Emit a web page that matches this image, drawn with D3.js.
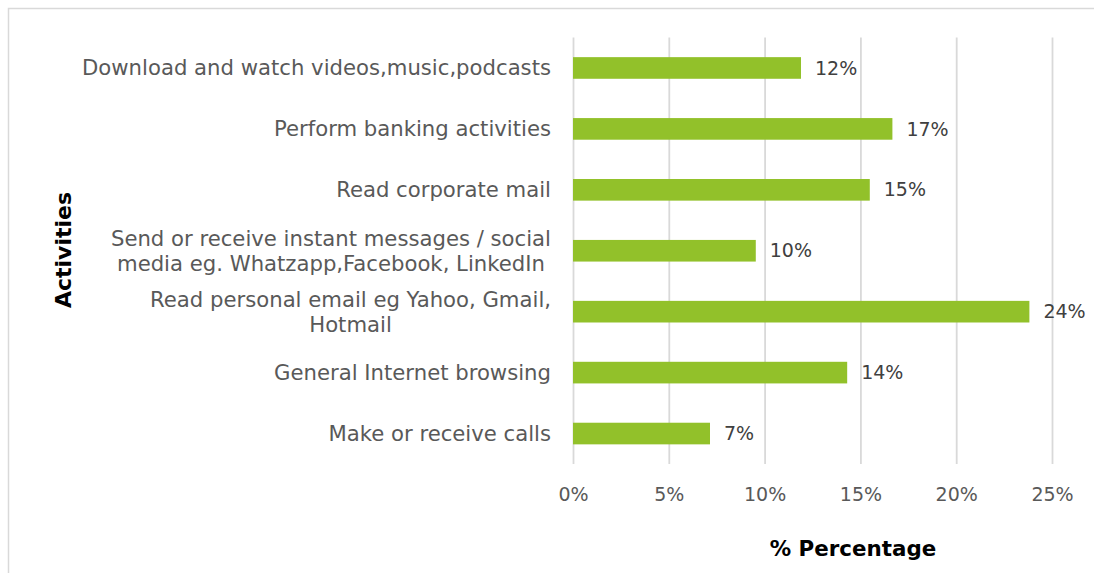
<!DOCTYPE html>
<html>
<head>
<meta charset="utf-8">
<script src="https://cdn.jsdelivr.net/npm/d3@7/dist/d3.min.js"></script>
<style>
  html, body { margin: 0; padding: 0; background: #fff; }
  svg { display: block; }
  text { font-family: "DejaVu Sans", sans-serif; }
</style>
</head>
<body>
<svg id="chart" width="1094" height="573"></svg>
<script>
// Activities, listed top to bottom; multi-line labels are split with "\n"
const activities = [
  "Download and watch videos,music,podcasts",
  "Perform banking activities",
  "Read corporate mail",
  "Send or receive instant messages / social\nmedia eg. Whatzapp,Facebook, LinkedIn",
  "Read personal email eg Yahoo, Gmail,\nHotmail",
  "General Internet browsing",
  "Make or receive calls"
];
// Share of respondents for each activity
const shares = [0.119, 0.1667, 0.1549, 0.0954, 0.2382, 0.1431, 0.0715];
// Axis ticks
const tickValues = [0, 0.05, 0.10, 0.15, 0.20, 0.25];
const xTitle = "% Percentage";
const yTitle = "Activities";

const svg = d3.select("#chart");
const W = 1094, H = 573;
const plotL = 573, plotR = 1052, plotT = 37.5, plotB = 464;

const x = d3.scaleLinear().domain([0, 0.25]).range([plotL, plotR]);
const y = d3.scaleBand().domain(activities).range([plotT, plotB])
  .paddingInner(0.645).paddingOuter(0.3225);
const pct = d3.format(".0%");

// Outer frame (top and left edges)
svg.append("path")
  .attr("d", `M8.5,${H} V8.5 H${W}`)
  .attr("fill", "none").attr("stroke", "#d9d9d9").attr("stroke-width", 1.5);

// Vertical gridlines and tick labels
const xAxis = d3.axisBottom(x)
  .tickValues(tickValues)
  .tickFormat(pct)
  .tickSize(-(plotB - plotT))
  .tickPadding(0);
const gx = svg.append("g").attr("transform", `translate(0,${plotB})`).call(xAxis);
gx.select(".domain").remove();
gx.selectAll(".tick line").attr("stroke", "#d9d9d9").attr("stroke-width", 1.8);
gx.selectAll(".tick text")
  .attr("y", 30).attr("dy", "0.35em")
  .attr("fill", "#595959")
  .style("font-size", "19px")
  .style("font-family", "DejaVu Sans, sans-serif");

// Bars
svg.append("g").selectAll("rect")
  .data(activities)
  .join("rect")
  .attr("x", x(0))
  .attr("y", d => y(d))
  .attr("width", (d, i) => x(shares[i]) - x(0))
  .attr("height", y.bandwidth())
  .attr("fill", "#92c12a");

// Value labels
svg.append("g").selectAll("text")
  .data(activities)
  .join("text")
  .attr("x", (d, i) => x(shares[i]) + 14)
  .attr("y", d => y(d) + y.bandwidth() / 2)
  .attr("dy", "0.35em")
  .attr("fill", "#404040")
  .style("font-size", "19px")
  .text((d, i) => pct(shares[i]));

// Category labels: block right-aligned, lines centred within the block
const catRight = 551, lineH = 25;
const cats = svg.append("g");
activities.forEach(label => {
  const lines = label.split("\n");
  const cy = y(label) + y.bandwidth() / 2;
  const g = cats.append("g");
  const texts = lines.map((ln, k) => g.append("text")
    .attr("y", cy + (k - (lines.length - 1) / 2) * lineH)
    .attr("dy", "0.35em")
    .attr("fill", "#595959")
    .style("font-size", "21.2px")
    .text(ln));
  const widths = texts.map(t => t.node().getComputedTextLength());
  const blockW = d3.max(widths);
  texts.forEach(t => t.attr("x", catRight - blockW / 2).attr("text-anchor", "middle"));
});

// Axis titles
svg.append("text")
  .attr("x", 853).attr("y", 549).attr("dy", "0.35em")
  .attr("text-anchor", "middle")
  .attr("fill", "#000")
  .style("font-size", "21.4px").style("font-weight", "bold")
  .text(xTitle);

svg.append("text")
  .attr("transform", "translate(63,250) rotate(-90)")
  .attr("dy", "0.35em")
  .attr("text-anchor", "middle")
  .attr("fill", "#000")
  .style("font-size", "22px").style("font-weight", "bold")
  .text(yTitle);
</script>
</body>
</html>
